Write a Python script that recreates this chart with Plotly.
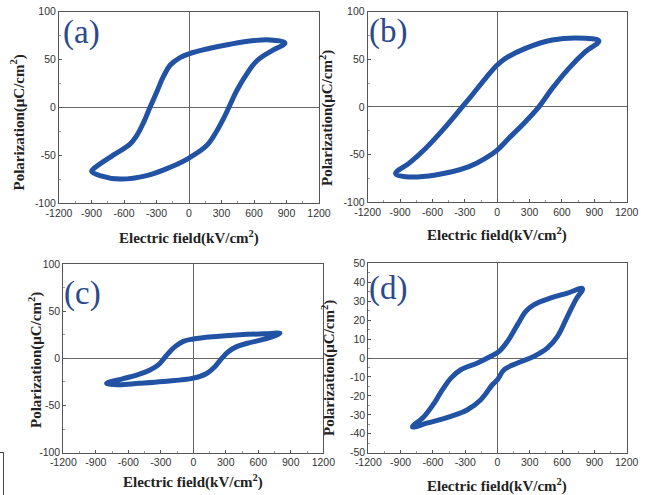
import plotly.graph_objects as go

W, H = 646, 495

# ---------------- data ----------------
# (a)
Ea_up = [886, 750, 600, 378, 163, 0, -83, -175, -237, -298, -360, -420, -483, -545, -700, -883, -898]
Pa_up = [67.2, 70.5, 69.8, 66, 61, 56, 52, 44, 32, 16, 0, -16, -29.6, -38.5, -50, -64.5, -67]
Ea_dn = [-822, -637, -391, -175, 0, 163, 255, 315, 368, 440, 532, 625, 778, 886]
Pa_dn = [-71.4, -75, -71.4, -62.7, -53, -40, -25, -12.5, 0, 17.4, 34.8, 48.5, 60, 67.2]
# (b)
Eb_up = [942, 818, 510, 262, 77, 0, -108, -232, -324, -479, -664, -818, -942]
Pb_up = [69.2, 72, 70.3, 61.5, 51, 44, 30, 12.5, 0, -21, -43.7, -59.4, -70]
Eb_dn = [-849, -571, -262, -108, 0, 108, 262, 386, 510, 664, 818, 942]
Pb_dn = [-73.4, -71.6, -62.9, -54, -45.4, -33, -15.6, 0, 19.4, 40.5, 58, 69.2]
# (c)
Ec_up = [800, 650, 431, 185, 0, -92, -169, -231, -277, -323, -400, -523, -646, -800]
Pc_up = [26.5, 26, 25, 23, 20.5, 18, 12.4, 5.3, -1, -7, -12.4, -17.7, -21.5, -26.5]
Ec_dn = [-700, -500, -277, 0, 123, 200, 262, 323, 400, 500, 646, 800]
Pc_dn = [-28, -26.5, -24.5, -21, -16, -8.8, 0, 7, 12.4, 16, 20, 26.5]
# (d)
Ed_up = [789, 650, 495, 340, 263, 186, 93, 15, -62, -186, -341, -433, -511, -588, -681, -789]
Pd_up = [36.6, 34.3, 31.7, 28.2, 24.6, 17.6, 8.8, 3.5, 0.9, -2.6, -6.2, -10.6, -16.7, -23.8, -30.8, -36.4]
Ed_dn = [-650, -433, -279, -155, -46, 0, 62, 186, 341, 464, 557, 650, 728, 789]
Pd_dn = [-34.3, -30.8, -27.3, -22, -14, -11.4, -6.2, -2.6, 0.9, 5.3, 11.4, 22, 30.8, 36.6]

panel_labels = ["(a)", "(b)", "(c)", "(d)"]
x_ticks = [-1200, -900, -600, -300, 0, 300, 600, 900, 1200]
y_ticks_abc = [-100, -50, 0, 50, 100]
y_ticks_d = [-50, -40, -30, -20, -10, 0, 10, 20, 30, 40, 50]

x_title = "<b>Electric field(kV/cm<sup>2</sup>)</b>"
y_title = "<b>Polarization(μC/cm<sup>2</sup>)</b>"

LINE = "#2152a3"
LABEL_C = "#2a4a8c"


def X(px):
    return px / W


def Y(py):
    return 1 - py / H


# plot area boxes in pixels (left, right, top, bottom)
boxes = [
    (59, 319, 11.7, 203),
    (367.7, 626.7, 11.7, 202),
    (63.3, 323.3, 264, 452.7),
    (368.3, 626.7, 263.3, 452.7),
]

loops = [
    (Ea_up + Ea_dn, Pa_up + Pa_dn),
    (Eb_up + Eb_dn, Pb_up + Pb_dn),
    (Ec_up + Ec_dn, Pc_up + Pc_dn),
    (Ed_up + Ed_dn, Pd_up + Pd_dn),
]

fig = go.Figure()
for i, (ex, py) in enumerate(loops):
    sfx = "" if i == 0 else str(i + 1)
    fig.add_trace(go.Scatter(
        x=ex, y=py, mode="lines",
        line=dict(color=LINE, width=5, shape="spline", smoothing=1.1),
        xaxis="x" + sfx, yaxis="y" + sfx, showlegend=False, hoverinfo="skip",
    ))

tickfont = dict(family="Liberation Sans, Arial, sans-serif", size=10.5, color="#333")
layout = dict(
    width=W, height=H, margin=dict(l=0, r=0, t=0, b=0),
    paper_bgcolor="white", plot_bgcolor="white", showlegend=False,
)
for i, (l, r, t, b) in enumerate(boxes):
    sfx = "" if i == 0 else str(i + 1)
    yt = y_ticks_d if i == 3 else y_ticks_abc
    yr = [-50, 50] if i == 3 else [-100, 100]
    ydt = 10 if i == 3 else 50
    layout["xaxis" + sfx] = dict(
        domain=[X(l), X(r)], range=[-1200, 1200], anchor="y" + sfx,
        tickvals=x_ticks, ticktext=[str(v) for v in x_ticks],
        ticks="inside", ticklen=3, tickcolor="#555",
        minor=dict(dtick=150, ticks="inside", ticklen=2, tickcolor="#999"),
        showline=True, linecolor="#555", linewidth=1, mirror=True,
        showgrid=False, zeroline=True, zerolinecolor="#666", zerolinewidth=1,
        tickfont=tickfont, fixedrange=True, automargin=False,
    )
    layout["yaxis" + sfx] = dict(
        domain=[Y(b), Y(t)], range=yr, anchor="x" + sfx,
        tickvals=yt, ticktext=[str(v) for v in yt],
        ticks="inside", ticklen=3, tickcolor="#555",
        minor=dict(dtick=ydt / 2, ticks="inside", ticklen=2, tickcolor="#999"),
        showline=True, linecolor="#555", linewidth=1, mirror=True,
        showgrid=False, zeroline=True, zerolinecolor="#666", zerolinewidth=1,
        tickfont=tickfont, fixedrange=True, automargin=False,
    )
fig.update_layout(**layout)

ann = []
serif = "Liberation Serif, Times New Roman, serif"
xt_pos = [(189, 237), (497, 235), (193, 481), (497, 485)]
yt_pos = [(17.5, 123), (327, 118), (35, 360), (328, 368)]
lab_pos = [(61, 33), (367, 32), (62, 293), (367, 288)]
for i in range(4):
    ann.append(dict(x=X(xt_pos[i][0]), y=Y(xt_pos[i][1]), xref="paper", yref="paper",
                    text=x_title, showarrow=False, xanchor="center", yanchor="middle",
                    font=dict(family=serif, size=15, color="#222")))
    ann.append(dict(x=X(yt_pos[i][0]), y=Y(yt_pos[i][1]), xref="paper", yref="paper",
                    text=y_title, showarrow=False, xanchor="center", yanchor="middle",
                    textangle=-90, font=dict(family=serif, size=15, color="#222")))
    ann.append(dict(x=X(lab_pos[i][0]), y=Y(lab_pos[i][1]), xref="paper", yref="paper",
                    text=panel_labels[i], showarrow=False, xanchor="left", yanchor="middle",
                    font=dict(family=serif, size=33, color=LABEL_C)))
fig.update_layout(annotations=ann)

# small frame fragment at the lower-left edge of the picture
fig.add_shape(type="line", xref="paper", yref="paper", x0=X(0), x1=X(4), y0=Y(452.5), y1=Y(452.5),
              line=dict(color="#444", width=1))
fig.add_shape(type="line", xref="paper", yref="paper", x0=X(3.5), x1=X(3.5), y0=Y(452.5), y1=Y(495),
              line=dict(color="#444", width=1))

fig.write_html("out.html", config={"displayModeBar": False, "staticPlot": True})

# remove the default page margin so the figure sits at the window's top-left corner
with open("out.html", "r", encoding="utf-8") as f:
    html = f.read()
html = html.replace("<head>", "<head><style>html,body{margin:0;padding:0;overflow:hidden;}</style>", 1)
with open("out.html", "w", encoding="utf-8") as f:
    f.write(html)
